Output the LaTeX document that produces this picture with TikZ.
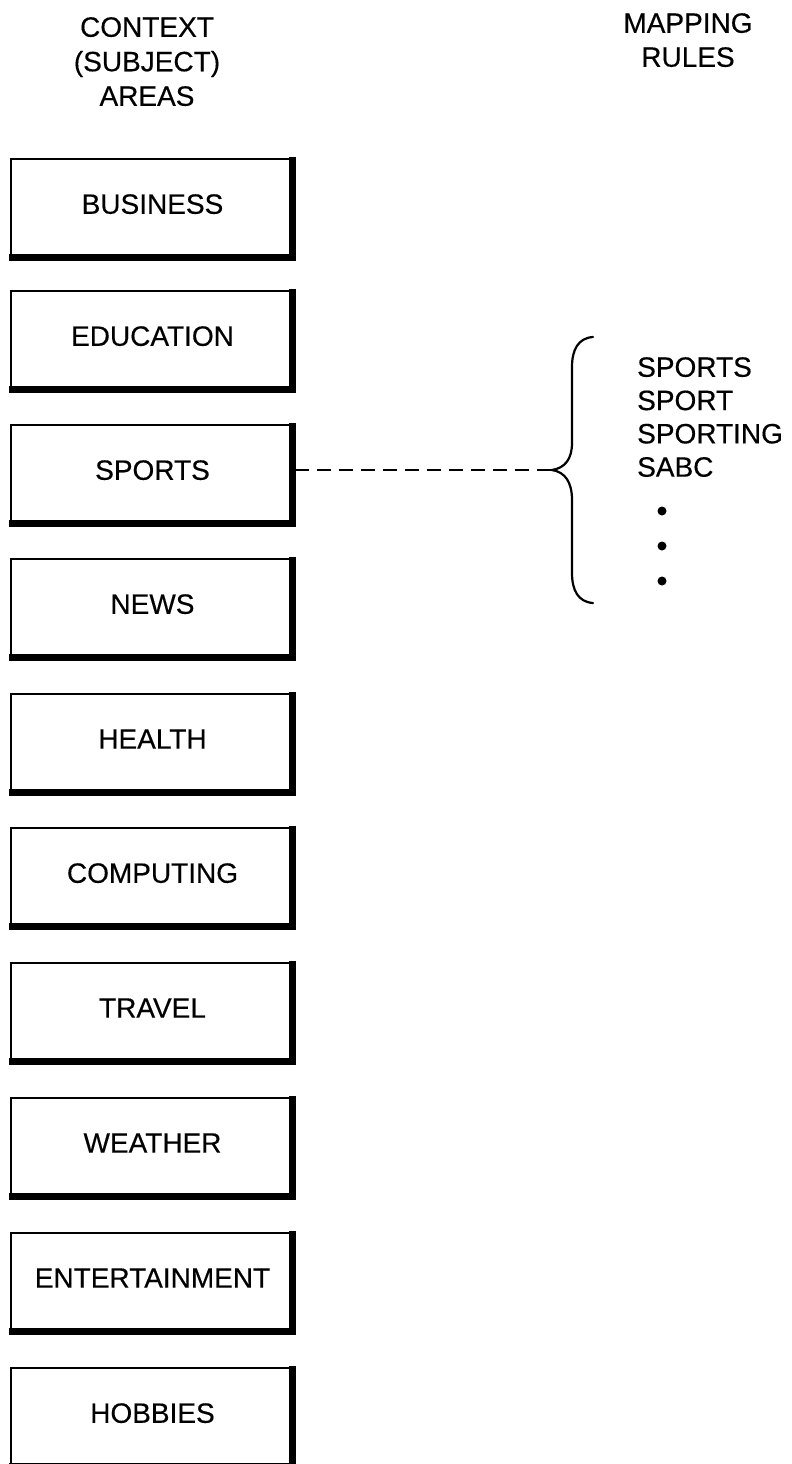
\documentclass[tikz,border=0pt]{standalone}
\usepackage{fontspec}
\setmainfont{Liberation Sans}[UprightFeatures={FakeBold=0.35}]
\begin{document}
\begin{tikzpicture}[x=1pt,y=-1pt,
  catbox/.style={draw, line width=1.8pt, minimum width=283.2pt, minimum height=100.2pt,
    inner sep=0pt, text depth=10pt, font=\fontsize{28}{34}\selectfont},
  header/.style={align=center, inner sep=0pt, anchor=north},
  rulelist/.style={align=left, inner sep=0pt, anchor=north west},
  connector/.style={line width=2pt, dash pattern=on 14pt off 8pt},
  bracestyle/.style={line width=2.2pt, line cap=round},
  dotstyle/.style={circle, fill, inner sep=0pt, minimum size=9pt}]
\useasboundingbox (0,0) rectangle (792,1464);
\clip (0,0) rectangle (792,1464);

\node[header, font=\fontsize{28}{34.5}\selectfont] (ctxhdr) at (147,17) {CONTEXT\\(SUBJECT)\\AREAS};
\node[header, font=\fontsize{28}{34}\selectfont] (maphdr) at (688,13) {MAPPING\\RULES};

\foreach \t/\lab/\nm in {158/BUSINESS/bus, 290/EDUCATION/edu, 424/SPORTS/sports,
   558/NEWS/news, 693/HEALTH/health, 827/COMPUTING/comp, 962/TRAVEL/travel,
   1097/WEATHER/weather, 1232/ENTERTAINMENT/ent, 1367/HOBBIES/hob} {
  \node[catbox] (\nm) at (152.5,\t+51) {\lab};
  \fill ([xshift=-6pt,yshift=0.9pt]\nm.north east) rectangle ([xshift=0.9pt,yshift=-0.9pt]\nm.south east);
  \fill ([xshift=-0.9pt,yshift=6pt]\nm.south west) rectangle ([xshift=0.9pt,yshift=-0.9pt]\nm.south east);
}

\coordinate (tip) at (552,470);
\draw[connector] (sports.east |- tip) -- (tip);

\draw[bracestyle] (593,337) .. controls (578,338) and (572,350) .. (572,367)
  -- (572,443) .. controls (572,459) and (565,468) .. (tip)
  .. controls (565,472) and (572,482) .. (572,500)
  -- (572,573) .. controls (572,590) and (578,602) .. (593,603);

\node[rulelist, font=\fontsize{28}{33.3}\selectfont] (rules) at (637,357) {SPORTS\\SPORT\\SPORTING\\SABC};
\node[dotstyle] (d1) at (662,511) {};
\node[dotstyle] (d2) at (662,546) {};
\node[dotstyle] (d3) at (662,581) {};
\end{tikzpicture}
\end{document}
